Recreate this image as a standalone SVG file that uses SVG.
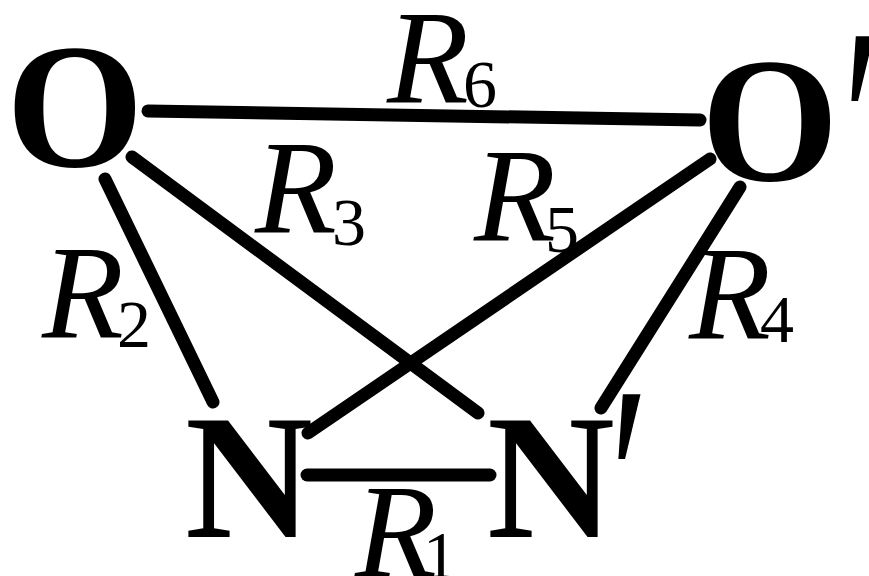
<svg xmlns="http://www.w3.org/2000/svg" width="869" height="576" viewBox="0 0 869 576">
<style>
.atom{font-family:"Liberation Serif","Times New Roman",serif;font-weight:bold;font-size:177px;fill:#000}
.prime{font-family:"Liberation Serif","Times New Roman",serif;font-style:italic;font-size:230px;fill:#000}
.lbl{font-family:"Liberation Serif","Times New Roman",serif;font-style:italic;font-size:134px;fill:#000}
.sub{font-family:"Liberation Serif","Times New Roman",serif;font-size:68px;fill:#000}
.bond{stroke:#000;stroke-width:13;stroke-linecap:round;fill:none}
</style>
<rect width="869" height="576" fill="#fff"/>
<g id="connectors">
<line class="bond" x1="148" y1="111" x2="700" y2="120"/>
<line class="bond" x1="105" y1="179" x2="213" y2="402"/>
<line class="bond" x1="132" y1="157" x2="478" y2="413"/>
<line class="bond" x1="710" y1="159" x2="308" y2="433"/>
<line class="bond" x1="740" y1="187" x2="601" y2="408"/>
<line class="bond" x1="307" y1="475" x2="490" y2="475"/>
</g>
<g id="labels">
<text x="387" y="102"><tspan class="lbl">R</tspan><tspan class="sub" x="463" y="107">6</tspan></text>
<text x="42" y="337"><tspan class="lbl">R</tspan><tspan class="sub" x="117" y="347">2</tspan></text>
<text x="255" y="232"><tspan class="lbl">R</tspan><tspan class="sub" x="332" y="245">3</tspan></text>
<text x="474" y="240"><tspan class="lbl">R</tspan><tspan class="sub" x="545" y="252">5</tspan></text>
<text x="689" y="338"><tspan class="lbl">R</tspan><tspan class="sub" x="760" y="342">4</tspan></text>
<text x="355" y="576"><tspan class="lbl">R</tspan><tspan class="sub" x="423" y="578">1</tspan></text>
</g>
<g id="O"><text class="atom" x="6" y="166">O</text></g>
<g id="O-prime"><text class="atom" x="701" y="180">O</text><text class="prime" transform="translate(831,217) scale(0.8,1.2)">′</text></g>
<g id="N"><text class="atom" x="185" y="537">N</text></g>
<g id="N-prime"><text class="atom" x="487" y="537">N</text><text class="prime" transform="translate(598,575) scale(0.8,1.2)">′</text></g>
</svg>
